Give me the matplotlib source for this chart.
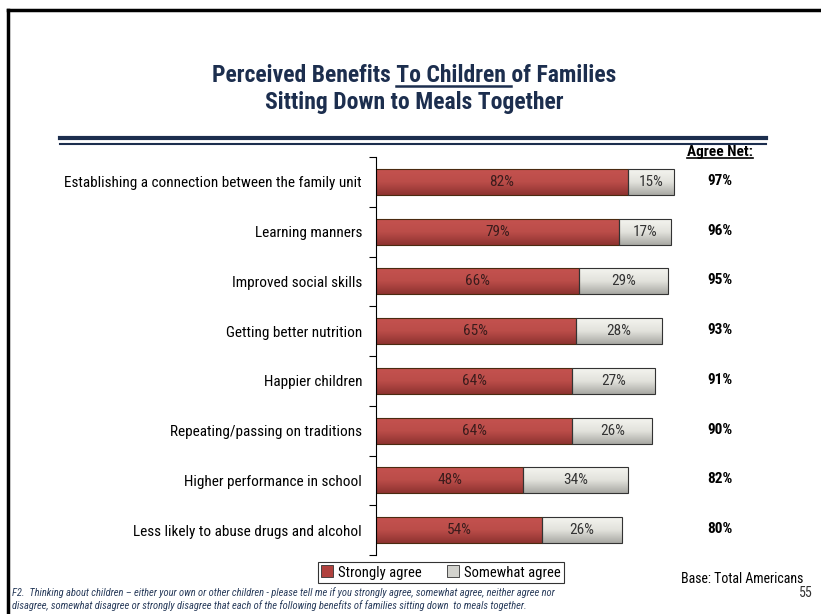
import numpy as np
import matplotlib.pyplot as plt
from matplotlib.lines import Line2D
from matplotlib.colors import LinearSegmentedColormap

# data
categories = [
    "Establishing a connection between the family unit",
    "Learning manners",
    "Improved social skills",
    "Getting better nutrition",
    "Happier children",
    "Repeating/passing on traditions",
    "Higher performance in school",
    "Less likely to abuse drugs and alcohol",
]
strongly = [82, 79, 66, 65, 64, 64, 48, 54]
somewhat = [15, 17, 29, 28, 27, 26, 34, 26]
agree_net = [97, 96, 95, 93, 91, 90, 82, 80]

FONT = ['Roboto Condensed', 'DejaVu Sans']
NAVY = '#1c2e4e'
W, H = 821, 614

plt.rcParams['font.family'] = FONT

fig = plt.figure(figsize=(W / 100, H / 100), dpi=100)

# slide frame: top and left edges only
fig.add_artist(Line2D([8 / W, 1], [1 - 10 / H, 1 - 10 / H], color='black', lw=2.5))
fig.add_artist(Line2D([8 / W, 8 / W], [0, 1 - 10 / H], color='black', lw=2.5))

# double rule under the title
fig.add_artist(Line2D([60 / W, 766 / W], [1 - 138 / H] * 2, color=NAVY, lw=3))
fig.add_artist(Line2D([60 / W, 766 / W], [1 - 143.5 / H] * 2, color=NAVY, lw=1.5))

ax = fig.add_axes([376 / W, 1 - 555 / H, 307 / W, 398 / H])
y = np.arange(len(categories))
bh = 0.52

red_cmap = LinearSegmentedColormap.from_list('r', ['#c4524f', '#bb4d49', '#8e3330'])
gray_cmap = LinearSegmentedColormap.from_list('g', ['#f4f4ef', '#e2e2dc', '#a9a9a4'])
grad = np.linspace(0, 1, 64).reshape(-1, 1)

bars1 = ax.barh(y, strongly, height=bh, color='#c0504d', edgecolor='#4a2a10', lw=0.8)
bars2 = ax.barh(y, somewhat, left=strongly, height=bh, color='#dddddd',
                edgecolor='#333333', lw=0.8)

# vertical gradient inside each bar
for bars, cmap in ((bars1, red_cmap), (bars2, gray_cmap)):
    for b in bars:
        x0, y0 = b.get_x(), b.get_y()
        im = ax.imshow(grad, cmap=cmap, aspect='auto', interpolation='bicubic',
                       extent=[x0, x0 + b.get_width(), y0 + b.get_height(), y0],
                       zorder=b.get_zorder())
        im.set_clip_path(b)
        b.set_facecolor('none')
        b.set_zorder(b.get_zorder() + 0.5)

for i in range(len(categories)):
    ax.text(strongly[i] / 2, y[i], f"{strongly[i]}%", ha='center', va='center',
            fontsize=11, color='#3a1c1c')
    ax.text(strongly[i] + somewhat[i] / 2, y[i], f"{somewhat[i]}%", ha='center',
            va='center', fontsize=11, color='#333333')
    ax.text(720 / W, 1 - (181 + 49.7 * i) / H, f"{agree_net[i]}%", transform=fig.transFigure,
            ha='center', va='center', fontsize=11, fontweight='bold', color='black')

ax.set_xlim(0, 100)
ax.set_ylim(len(categories) - 0.5, -0.5)
ax.set_yticks(y)
ax.set_yticklabels(categories, fontsize=11)
ax.set_yticks(np.arange(-0.5, len(categories)), minor=True)
ax.tick_params(axis='y', which='major', length=0, pad=10)
ax.tick_params(axis='y', which='minor', length=5, direction='out', width=0.8)
ax.set_xticks([])
for s in ('top', 'right', 'bottom'):
    ax.spines[s].set_visible(False)
ax.spines['left'].set_linewidth(0.8)

# title, with "To Children" underlined
t1 = "Perceived Benefits To Children of Families"
tx, ty1 = 414 / W, 1 - 75 / H
title_kw = dict(fontsize=17, fontweight='bold', color=NAVY, family=FONT)
line1 = fig.text(tx, ty1, t1, ha='center', va='center', **title_kw)
fig.text(tx, 1 - 102 / H, "Sitting Down to Meals Together", ha='center', va='center', **title_kw)

hdr = fig.text(720 / W, 1 - 152 / H, "Agree Net:", ha='center', va='center',
               fontsize=11, fontweight='bold', color='black')

fig.canvas.draw()
r = fig.canvas.get_renderer()


def width(s, **kw):
    t = fig.text(0, 0, s, **kw)
    w = t.get_window_extent(r).width
    t.remove()
    return w


bb = line1.get_window_extent(r)
w_pre = width("Perceived Benefits", **title_kw)
w_sp = width("a b", **title_kw) - width("ab", **title_kw)
w_end = width("Perceived Benefits To Children", **title_kw)
u0 = (bb.x0 + w_pre + w_sp) / W
u1 = (bb.x0 + w_end + w_sp) / W
uy = (bb.y0 + 1) / H
fig.add_artist(Line2D([u0, u1], [uy, uy], color=NAVY, lw=1.8))

hb = hdr.get_window_extent(r)
fig.add_artist(Line2D([hb.x0 / W, hb.x1 / W], [(hb.y0 + 1) / H] * 2, color='black', lw=1.2))

# legend
handles = [
    Line2D([], [], marker='s', ls='none', markersize=8, markerfacecolor='#b0413e',
           markeredgecolor='#333333', markeredgewidth=0.6),
    Line2D([], [], marker='s', ls='none', markersize=8, markerfacecolor='#d2d2cd',
           markeredgecolor='#333333', markeredgewidth=0.6),
]
leg = fig.legend(handles, ["Strongly agree", "Somewhat agree"], loc='center',
                 bbox_to_anchor=(441 / W, 1 - 572.5 / H), ncol=2, fontsize=10.5,
                 frameon=True, fancybox=False, edgecolor='black', handlelength=0.8,
                 handletextpad=0.3, columnspacing=1.8, borderpad=0.25)
leg.get_frame().set_linewidth(0.8)

fig.text(803 / W, 1 - 579 / H, "Base: Total Americans", ha='right', va='center',
         fontsize=10, color='black')
fig.text(813 / W, 1 - 593 / H, "55", ha='right', va='center', fontsize=10, color='#333333')

note = ("F2.  Thinking about children \u2013 either your own or other children - please tell me "
        "if you strongly agree, somewhat agree, neither agree nor\n"
        "disagree, somewhat disagree or strongly disagree that each of the following benefits "
        "of families sitting down  to meals together.")
fig.text(12 / W, 1 - 599 / H, note, ha='left', va='center', fontsize=7.6,
         style='italic', color='#2a3d5c', linespacing=1.2)

fig.savefig('out.png', dpi=100)
